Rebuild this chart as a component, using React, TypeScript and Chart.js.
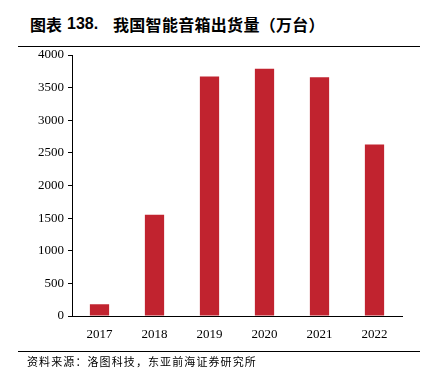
import React, { useEffect, useRef } from "react";
import { Chart, registerables } from "chart.js";

Chart.register(...registerables);

const categories = ["2017", "2018", "2019", "2020", "2021", "2022"];
const shipments = [180, 1550, 3670, 3790, 3660, 2630];
const yTicks = [0, 500, 1000, 1500, 2000, 2500, 3000, 3500, 4000];
const titleLabel = "图表";
const titleNumber = "138.";
const titleText = "我国智能音箱出货量（万台）";
const sourceText = "资料来源：洛图科技，东亚前海证券研究所";

export default function App() {
  const ref = useRef<HTMLCanvasElement | null>(null);

  useEffect(() => {
    if (!ref.current) return;
    const chart = new Chart(ref.current, {
      type: "bar",
      data: {
        labels: categories,
        datasets: [
          {
            data: shipments,
            backgroundColor: "#C1232F",
            borderWidth: 0,
            barPercentage: 0.35,
            categoryPercentage: 1,
          },
        ],
      },
      options: {
        animation: false,
        responsive: false,
        maintainAspectRatio: false,
        layout: { padding: { left: 0, right: 25, top: 55, bottom: 39 } },
        plugins: { legend: { display: false }, tooltip: { enabled: false } },
        scales: {
          x: {
            grid: { display: false },
            border: { display: true, color: "#000", width: 1 },
            ticks: {
              color: "#000",
              padding: 3,
              font: { family: "'Liberation Serif', serif", size: 13 },
            },
            afterFit: (s: any) => {
              s.height = 30;
            },
          },
          y: {
            min: 0,
            max: 4000,
            afterBuildTicks: (s: any) => {
              s.ticks = yTicks.map((v) => ({ value: v }));
            },
            grid: {
              drawOnChartArea: false,
              drawTicks: true,
              tickLength: 4,
              tickColor: "#000",
            },
            border: { display: true, color: "#000", width: 1 },
            ticks: {
              color: "#000",
              padding: 4,
              font: { family: "'Liberation Serif', serif", size: 13 },
              callback: (v: any) => String(v),
            },
            afterFit: (s: any) => {
              s.width = 72;
            },
          },
        },
      },
    });
    return () => chart.destroy();
  }, []);

  return (
    <div style={{ position: "fixed", left: 0, top: 0, width: 427, height: 385, background: "#fff" }}>
      <div
        style={{
          position: "absolute",
          left: 30,
          top: 14,
          fontFamily: "'Noto Sans CJK SC', sans-serif",
          fontWeight: "bold",
          fontSize: 16,
          lineHeight: "20px",
          whiteSpace: "pre",
          color: "#000",
        }}
      >
        <span style={{ position: "absolute", left: 0, top: 0 }}>{titleLabel}</span>
        <span style={{ position: "absolute", left: 37, top: 0, fontFamily: "'Liberation Sans', Arial, sans-serif" }}>{titleNumber}</span>
        <span style={{ position: "absolute", left: 83, top: 0, letterSpacing: 0.3 }}>{titleText}</span>
      </div>
      <div style={{ position: "absolute", left: 18, top: 46, width: 402, height: 0, borderTop: "1.5px solid #000" }} />
      <canvas ref={ref} width={427} height={385} style={{ position: "absolute", left: 0, top: 0 }} />
      <div style={{ position: "absolute", left: 18, top: 351, width: 402, height: 0, borderTop: "1.5px solid #000" }} />
      <div
        style={{
          position: "absolute",
          left: 27,
          top: 354,
          fontFamily: "'Noto Sans CJK SC', sans-serif",
          fontSize: 11,
          lineHeight: "14px",
          letterSpacing: 1.1,
          whiteSpace: "pre",
          color: "#000",
        }}
      >
        {sourceText}
      </div>
    </div>
  );
}
